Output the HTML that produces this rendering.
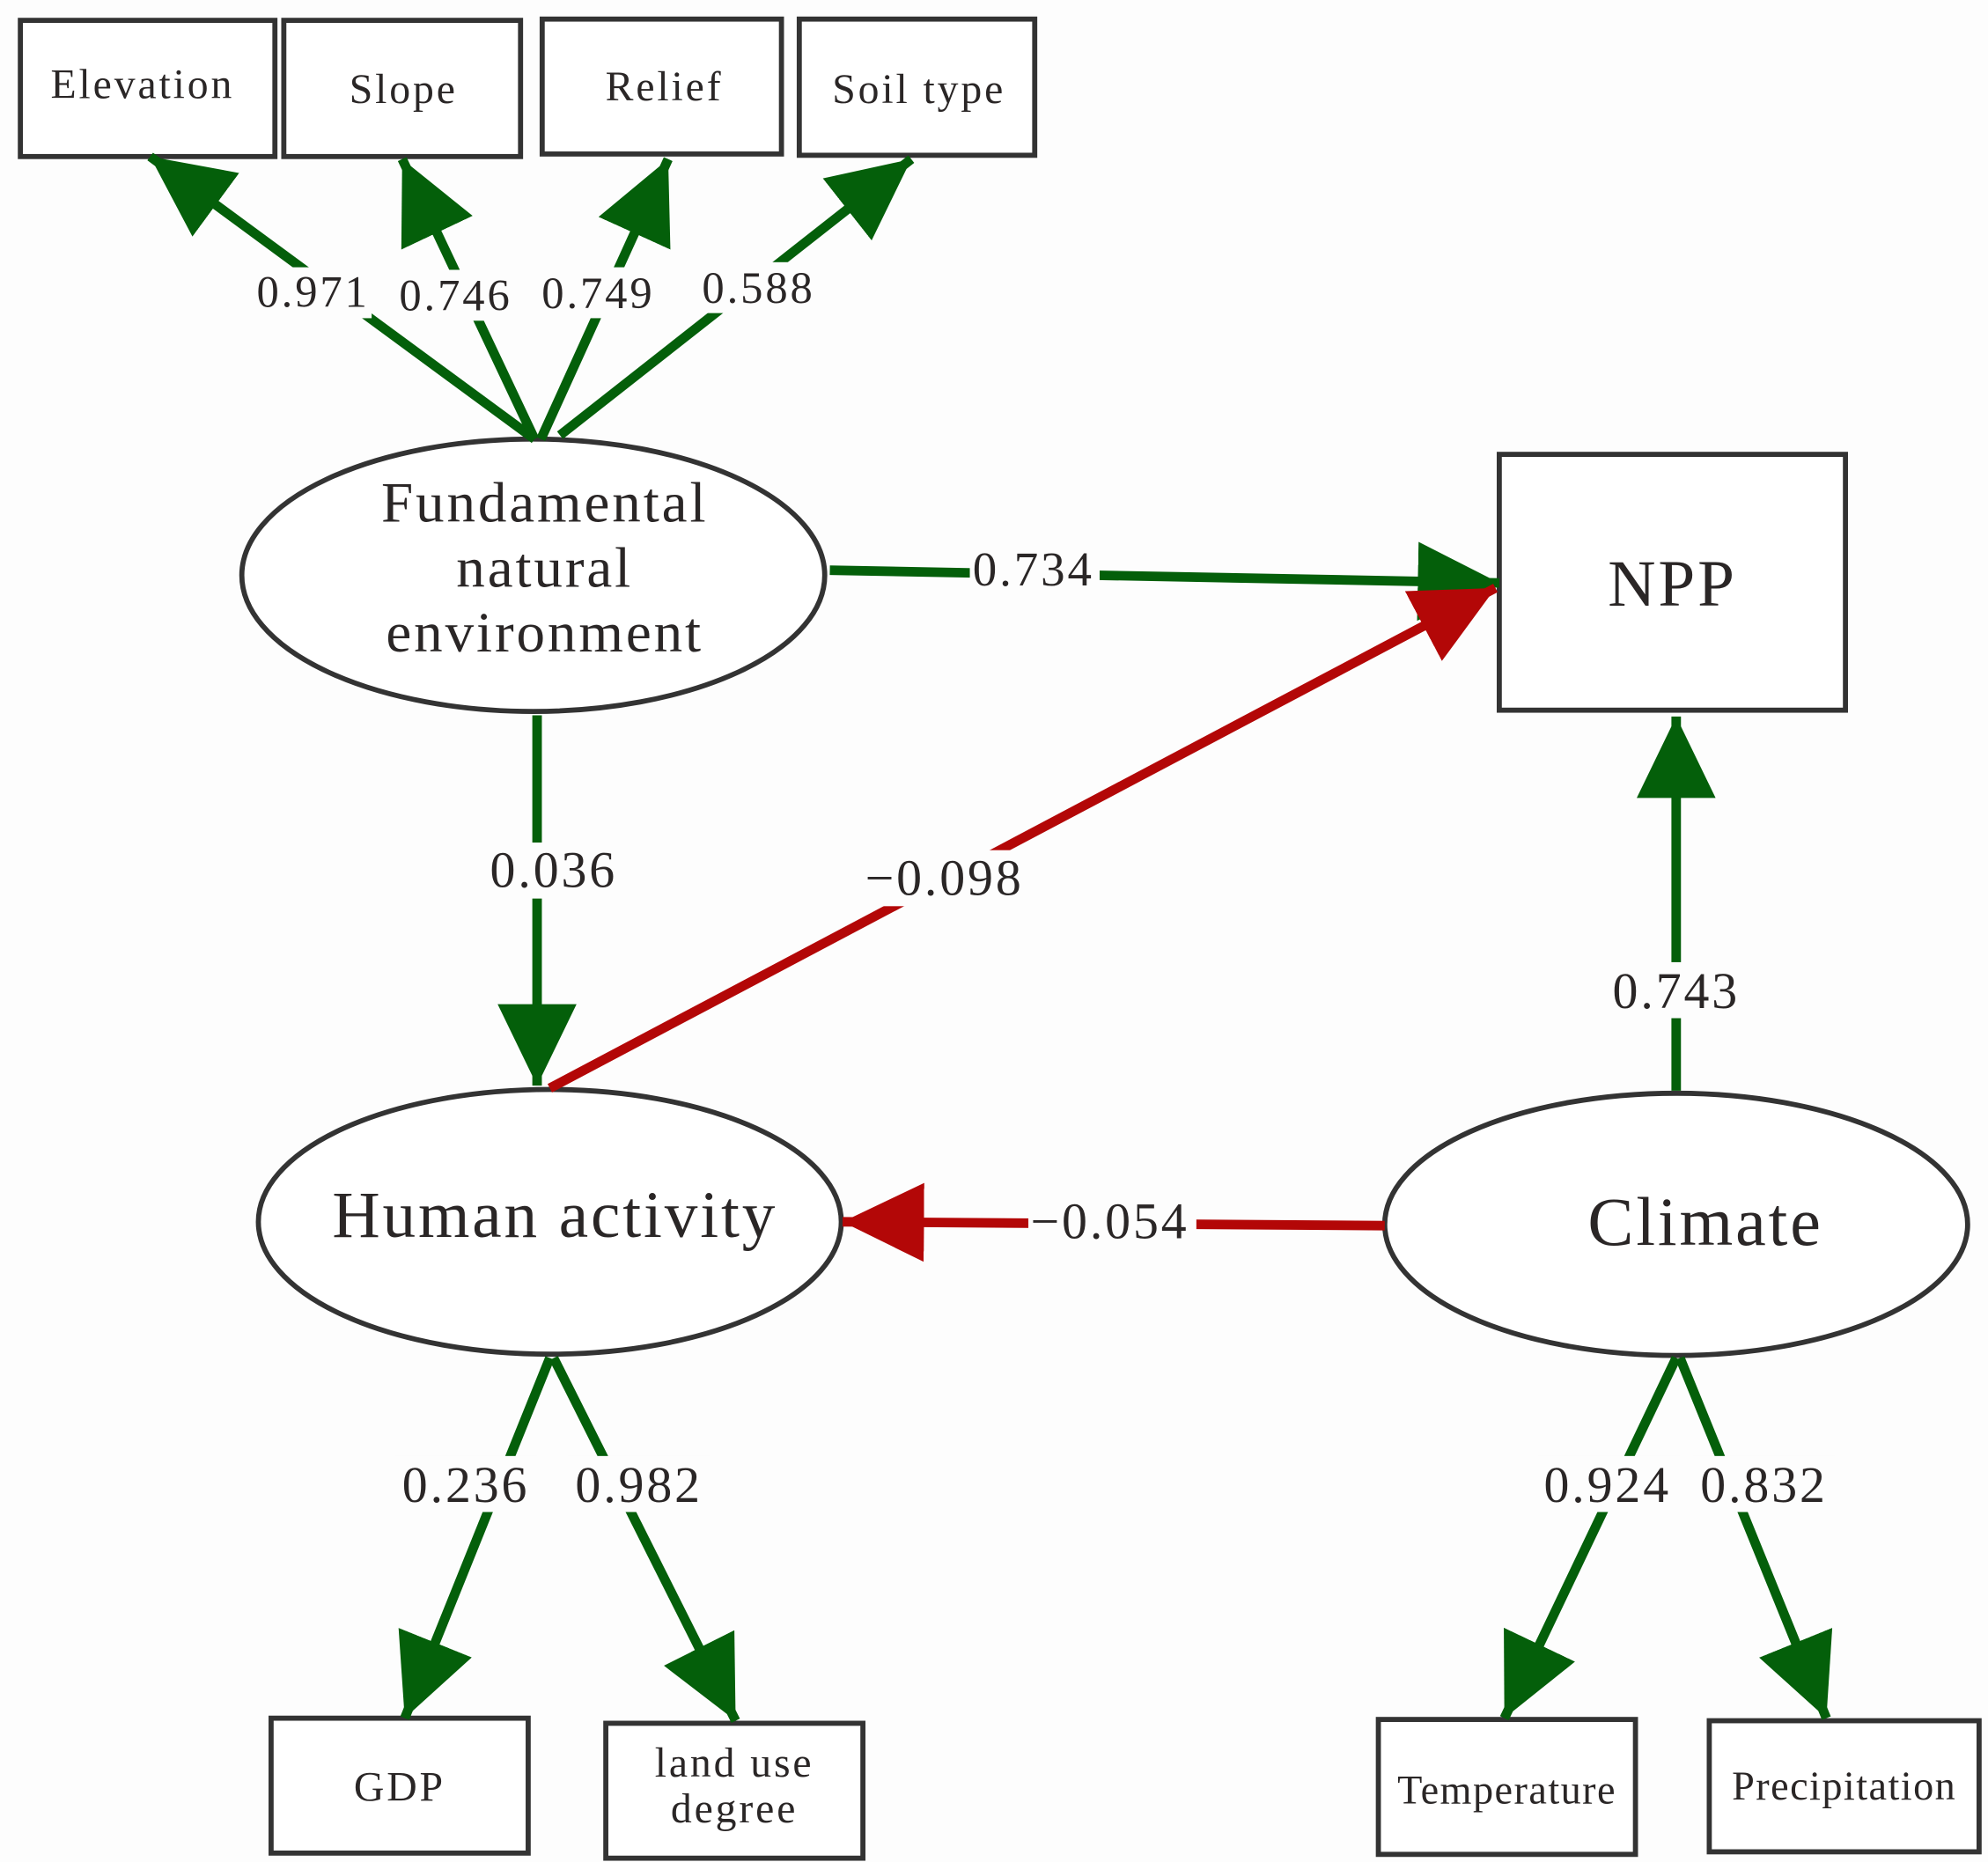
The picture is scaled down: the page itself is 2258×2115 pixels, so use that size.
<!DOCTYPE html>
<html><head><meta charset="utf-8"><style>
html,body{margin:0;padding:0;background:#fdfdfd}
svg{display:block}
text{font-family:"Liberation Serif",serif;fill:#2a2626}
</style></head><body>
<svg width="2258" height="2115" viewBox="0 0 1562 1463" preserveAspectRatio="none" xmlns="http://www.w3.org/2000/svg">
<defs>
<marker id="g" markerUnits="userSpaceOnUse" markerWidth="64" markerHeight="62" refX="64" refY="31" orient="auto"><path d="M0,0 L64,31 L0,62 z" fill="#045f0a"/></marker>
<marker id="r" markerUnits="userSpaceOnUse" markerWidth="64" markerHeight="62" refX="64" refY="31" orient="auto"><path d="M0,0 L64,31 L0,62 z" fill="#b30707"/></marker>
</defs>
<rect width="1562" height="1463" fill="#fdfdfd"/>
<g fill="#fff" stroke="#333" stroke-width="4">
<rect x="16" y="16" width="200" height="107"/>
<rect x="223" y="16" width="186" height="107"/>
<rect x="426" y="15" width="188" height="106"/>
<rect x="628" y="15" width="185" height="107"/>
<rect x="1178" y="357" width="272" height="201"/>
<rect x="213" y="1350" width="202" height="106"/>
<rect x="476" y="1354" width="202" height="106"/>
<rect x="1083" y="1351" width="202" height="106"/>
<rect x="1343" y="1352" width="212" height="103"/>
<ellipse cx="419" cy="452" rx="229" ry="107"/>
<ellipse cx="432" cy="960" rx="229" ry="104"/>
<ellipse cx="1317" cy="962" rx="229" ry="103"/>
</g>
<g stroke="#045f0a" stroke-width="7.5" fill="none">
<line x1="420" y1="345" x2="118" y2="123" marker-end="url(#g)"/>
<line x1="420" y1="345" x2="316" y2="125" marker-end="url(#g)"/>
<line x1="425" y1="345" x2="525" y2="125" marker-end="url(#g)"/>
<line x1="440" y1="342" x2="716" y2="125" marker-end="url(#g)"/>
<line x1="652" y1="448" x2="1178" y2="458" marker-end="url(#g)"/>
<line x1="422" y1="562" x2="422" y2="853" marker-end="url(#g)"/>
<line x1="1317" y1="857" x2="1317" y2="563" marker-end="url(#g)"/>
<line x1="432" y1="1067" x2="318" y2="1350" marker-end="url(#g)"/>
<line x1="435" y1="1067" x2="578" y2="1352" marker-end="url(#g)"/>
<line x1="1317" y1="1067" x2="1182" y2="1350" marker-end="url(#g)"/>
<line x1="1320" y1="1067" x2="1435" y2="1350" marker-end="url(#g)"/>
</g>
<g stroke="#b30707" stroke-width="7.5" fill="none">
<line x1="432" y1="855" x2="1175" y2="462" marker-end="url(#r)"/>
<line x1="1088" y1="963" x2="662" y2="960" marker-end="url(#r)"/>
</g>
<g fill="#fdfdfd">
<rect x="200" y="210" width="92" height="40"/>
<rect x="312" y="212" width="92" height="40"/>
<rect x="424" y="210" width="92" height="40"/>
<rect x="550" y="206" width="92" height="40"/>
<rect x="762" y="426" width="102" height="40"/>
<rect x="378" y="662" width="112" height="44"/>
<rect x="676" y="668" width="134" height="44"/>
<rect x="1260" y="756" width="112" height="44"/>
<rect x="808" y="938" width="132" height="44"/>
<rect x="310" y="1144" width="112" height="44"/>
<rect x="446" y="1144" width="112" height="44"/>
<rect x="1208" y="1144" width="112" height="44"/>
<rect x="1330" y="1144" width="112" height="44"/>
</g>
<g text-anchor="middle" letter-spacing="2">
<text x="112" y="77" font-size="33">Elevation</text>
<text x="317" y="81" font-size="33">Slope</text>
<text x="522" y="79" font-size="33">Relief</text>
<text x="722" y="81" font-size="33">Soil type</text>
<text x="246" y="241" font-size="35">0.971</text>
<text x="358" y="244" font-size="35">0.746</text>
<text x="470" y="242" font-size="35">0.749</text>
<text x="596" y="238" font-size="35">0.588</text>
<text x="428" y="410" font-size="45">Fundamental</text>
<text x="428" y="461" font-size="45">natural</text>
<text x="428" y="512" font-size="45">environment</text>
<text x="1314" y="476" font-size="52">NPP</text>
<text x="812" y="460" font-size="38">0.734</text>
<text x="435" y="697" font-size="40">0.036</text>
<text x="742" y="703" font-size="40">−0.098</text>
<text x="1317" y="792" font-size="40">0.743</text>
<text x="436" y="972" font-size="52">Human activity</text>
<text x="1340" y="978" font-size="54">Climate</text>
<text x="872" y="973" font-size="40">−0.054</text>
<text x="366" y="1180" font-size="40">0.236</text>
<text x="502" y="1180" font-size="40">0.982</text>
<text x="1263" y="1180" font-size="40">0.924</text>
<text x="1386" y="1180" font-size="40">0.832</text>
<text x="314" y="1415" font-size="33">GDP</text>
<text x="577" y="1396" font-size="33">land use</text>
<text x="577" y="1432" font-size="33">degree</text>
<text x="1184" y="1417" font-size="32" letter-spacing="1">Temperature</text>
<text x="1449" y="1414" font-size="32" letter-spacing="1">Precipitation</text>
</g>
</svg>
</body></html>
